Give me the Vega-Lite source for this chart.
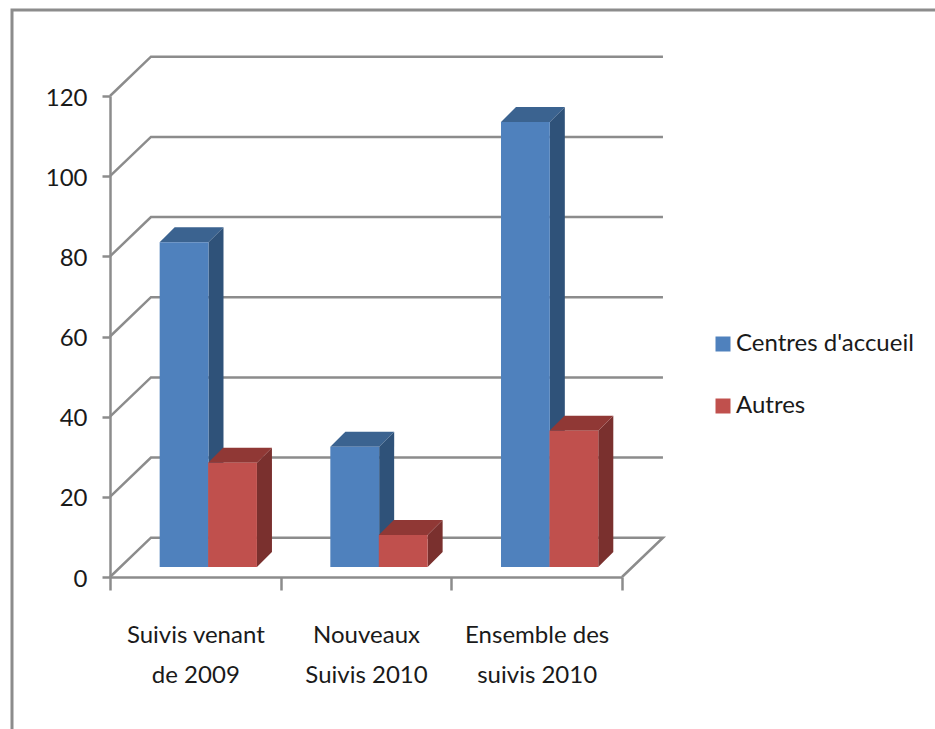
{
"$schema":"https://vega.github.io/schema/vega-lite/v6.json",
"width":940,"height":730,
"padding":{"left":12,"top":10,"right":0,"bottom":0},
"autosize":{"type":"none"},
"background":"white",
"view":{"stroke":"#8c8c8c","strokeWidth":3,"fill":"white"},
"data":{"values":[
{"cat":"Suivis venant de 2009","series":"Centres d'accueil","value":81},
{"cat":"Suivis venant de 2009","series":"Autres","value":26},
{"cat":"Nouveaux Suivis 2010","series":"Centres d'accueil","value":30},
{"cat":"Nouveaux Suivis 2010","series":"Autres","value":8},
{"cat":"Ensemble des suivis 2010","series":"Centres d'accueil","value":111},
{"cat":"Ensemble des suivis 2010","series":"Autres","value":34}
]},
"transform":[
{"calculate":"indexof(['Suivis venant de 2009','Nouveaux Suivis 2010','Ensemble des suivis 2010'],datum.cat)+(datum.series=='Autres'?0.575:0.291)","as":"xl"},
{"calculate":"datum.xl+0.286","as":"xr"},
{"calculate":"datum.value+2.5","as":"top"},
{"calculate":"2.5","as":"base"}
],
"resolve":{"scale":{"x":"independent"},"axis":{"x":"independent"}},
"layer":[
{"data":{"values":[{"level":0},{"level":20},{"level":40},{"level":60},{"level":80},{"level":100},{"level":120}]},
 "transform":[
  {"calculate":"datum.level==0?[0,1,2,3]:[0,1,2]","as":"t"},
  {"flatten":["t"]},
  {"calculate":"[0,0.24,3.24,3][datum.t]","as":"px"},
  {"calculate":"datum.level+[0,9.8,9.8,0][datum.t]","as":"py"}
 ],
 "mark":{"type":"line","stroke":"#8c8c8c","strokeWidth":2.5,"strokeJoin":"miter"},
 "encoding":{
  "x":{"field":"px","type":"quantitative","axis":null,"scale":{"domain":[0,3],"range":[98,610]}},
  "y":{"field":"py","type":"quantitative","scale":{"domain":[0,120],"range":[567,86]},
   "axis":{"title":null,"values":[0,20,40,60,80,100,120],"offset":-98,"grid":false,"domainColor":"#8c8c8c","domainWidth":2.5,"tickColor":"#8c8c8c","tickWidth":2.5,"tickSize":8,"labelFont":"Lato","labelFontSize":24,"labelColor":"#1a1a1a","labelPadding":15,"labelOffset":2}},
  "detail":{"field":"level"},
  "order":{"field":"t","type":"ordinal"}
 }},
{"mark":{"type":"bar","opacity":0},
 "encoding":{
  "x":{"field":"cat","type":"nominal","sort":null,
   "scale":{"domain":["Suivis venant de 2009","Nouveaux Suivis 2010","Ensemble des suivis 2010"],"range":[98,610],"paddingInner":0,"paddingOuter":0},
   "axis":{"title":null,"orient":"bottom","offset":-163,"tickBand":"extent","labelAngle":0,"domainColor":"#8c8c8c","domainWidth":2.5,"tickColor":"#8c8c8c","tickWidth":2.5,"tickSize":13,"labelFont":"Lato","labelFontSize":24,"labelColor":"#1a1a1a","labelPadding":45,"labelLineHeight":40,"labelBaseline":"middle",
   "labelExpr":"datum.label=='Suivis venant de 2009'?['Suivis venant','de 2009']:datum.label=='Nouveaux Suivis 2010'?['Nouveaux','Suivis 2010']:datum.label=='Ensemble des suivis 2010'?['Ensemble des','suivis 2010']:''"}},
  "y":{"datum":0,"type":"quantitative"}
 }},
{"transform":[{"filter":"datum.series!='Autres'"},{"calculate":"[0,1]","as":"t"},{"flatten":["t"]},
  {"calculate":"datum.xr+0.088*datum.t","as":"px"},{"calculate":"datum.base+3.74*datum.t","as":"p0"},{"calculate":"datum.top+3.74*datum.t","as":"p1"}],
 "mark":{"type":"area","color":"#2F5279"},
 "encoding":{"x":{"field":"px","type":"quantitative","axis":null,"scale":{"domain":[0,3],"range":[98,610]}},"y":{"field":"p0","type":"quantitative"},"y2":{"field":"p1"},"detail":{"field":"cat"}}},
{"transform":[{"filter":"datum.series!='Autres'"},{"calculate":"[0,1,2,3]","as":"t"},{"flatten":["t"]},
  {"calculate":"[datum.xl,datum.xl+0.088,datum.xr,datum.xr+0.088][datum.t]","as":"px"},{"calculate":"datum.t==3?datum.top+3.74:datum.top","as":"p0"},{"calculate":"datum.t==0?datum.top:datum.top+3.74","as":"p1"}],
 "mark":{"type":"area","color":"#3B6390"},
 "encoding":{"x":{"field":"px","type":"quantitative","axis":null,"scale":{"domain":[0,3],"range":[98,610]}},"y":{"field":"p0","type":"quantitative"},"y2":{"field":"p1"},"detail":{"field":"cat"}}},
{"transform":[{"filter":"datum.series!='Autres'"}],
 "mark":{"type":"rect"},
 "encoding":{"x":{"field":"xl","type":"quantitative","axis":null,"scale":{"domain":[0,3],"range":[98,610]}},"x2":{"field":"xr"},"y":{"field":"base","type":"quantitative"},"y2":{"field":"top"},
  "color":{"field":"series","type":"nominal","scale":{"domain":["Centres d'accueil","Autres"],"range":["#4F81BD","#C0504D"]},
   "legend":{"title":null,"orient":"none","legendX":699,"legendY":322,"symbolType":"square","symbolSize":225,"symbolStrokeWidth":0,"labelFont":"Lato","labelFontSize":24,"labelLimit":300,"labelColor":"#1a1a1a","rowPadding":38,"labelOffset":1,"symbolOpacity":1}}}},
{"transform":[{"filter":"datum.series=='Autres'"},{"calculate":"[0,1]","as":"t"},{"flatten":["t"]},
  {"calculate":"datum.xr+0.088*datum.t","as":"px"},{"calculate":"datum.base+3.74*datum.t","as":"p0"},{"calculate":"datum.top+3.74*datum.t","as":"p1"}],
 "mark":{"type":"area","color":"#7A302E"},
 "encoding":{"x":{"field":"px","type":"quantitative","axis":null,"scale":{"domain":[0,3],"range":[98,610]}},"y":{"field":"p0","type":"quantitative"},"y2":{"field":"p1"},"detail":{"field":"cat"}}},
{"transform":[{"filter":"datum.series=='Autres'"},{"calculate":"[0,1,2,3]","as":"t"},{"flatten":["t"]},
  {"calculate":"[datum.xl,datum.xl+0.088,datum.xr,datum.xr+0.088][datum.t]","as":"px"},{"calculate":"datum.t==3?datum.top+3.74:datum.top","as":"p0"},{"calculate":"datum.t==0?datum.top:datum.top+3.74","as":"p1"}],
 "mark":{"type":"area","color":"#903835"},
 "encoding":{"x":{"field":"px","type":"quantitative","axis":null,"scale":{"domain":[0,3],"range":[98,610]}},"y":{"field":"p0","type":"quantitative"},"y2":{"field":"p1"},"detail":{"field":"cat"}}},
{"transform":[{"filter":"datum.series=='Autres'"}],
 "mark":{"type":"rect"},
 "encoding":{"x":{"field":"xl","type":"quantitative","axis":null,"scale":{"domain":[0,3],"range":[98,610]}},"x2":{"field":"xr"},"y":{"field":"base","type":"quantitative"},"y2":{"field":"top"},
  "color":{"field":"series","type":"nominal"}}}
]
}
